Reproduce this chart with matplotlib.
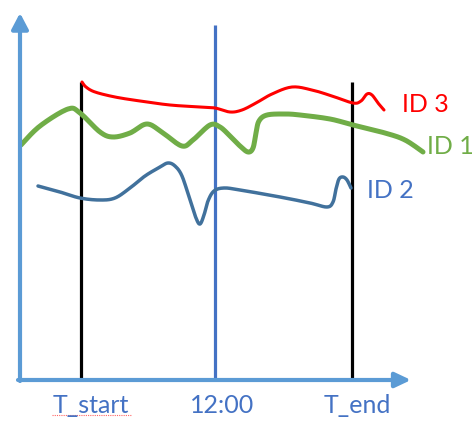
import numpy as np
import matplotlib
matplotlib.use('Agg')
import matplotlib.pyplot as plt

plt.rcParams['font.family'] = ['Lato', 'DejaVu Sans']

# hand-drawn curves (x = time in px, y = level in px, down is larger)
id3_x = [82, 86, 95, 115, 140, 170, 200, 215, 230, 242, 256, 272, 292, 312, 332, 353, 361, 367, 372, 378, 384]
id3_y = [82, 87, 92, 97, 101, 105, 107, 108, 112, 110, 103, 94, 87, 90, 96, 103, 101, 94, 95, 103, 110]

id1_x = [21, 40, 68, 80, 100, 113, 130, 147, 163, 182, 193, 210, 220, 230, 240, 248, 253, 256, 259, 267, 285, 300, 330, 353, 385, 405, 423]
id1_y = [145, 126, 109, 113, 132, 137, 133, 124, 133, 146, 140, 125, 127, 136, 146, 152, 148, 133, 121, 115, 114, 115, 119, 125, 133, 140, 152]

id2_x = [38, 60, 80, 100, 115, 130, 145, 160, 168, 175, 182, 190, 196, 200, 204, 208, 214, 224, 240, 280, 310, 327, 333, 336, 339, 343, 347, 351]
id2_y = [186, 192, 198, 200, 198, 188, 176, 167, 163, 166, 176, 200, 218, 224, 215, 201, 191, 188, 190, 197, 203, 207, 202, 189, 179, 177, 180, 188]

labels = ['ID 3', 'ID 1', 'ID 2']
label_x = [402, 427, 367]
label_y = [104, 147, 191]
label_colors = ['#FF0000', '#70AD47', '#4472C4']

tick_names = ['T_start', '12:00', 'T_end']
tick_pos = [81, 215, 352]
tick_text_x = [91, 222, 357]


def smooth(xs, ys, n=12):
    # catmull-rom through the read points
    px = np.array([xs[0]] + xs + [xs[-1]], dtype=float)
    py = np.array([ys[0]] + ys + [ys[-1]], dtype=float)
    out_x, out_y = [], []
    t = np.linspace(0, 1, n, endpoint=False)
    for i in range(1, len(px) - 2):
        for p, out in ((px, out_x), (py, out_y)):
            p0, p1, p2, p3 = p[i - 1], p[i], p[i + 1], p[i + 2]
            v = 0.5 * ((2 * p1) + (-p0 + p2) * t + (2 * p0 - 5 * p1 + 4 * p2 - p3) * t ** 2
                       + (-p0 + 3 * p1 - 3 * p2 + p3) * t ** 3)
            out.extend(v)
    out_x.append(xs[-1])
    out_y.append(ys[-1])
    return out_x, out_y


fig = plt.figure(figsize=(4.72, 4.32), dpi=100)
ax = fig.add_axes([0, 0, 1, 1])
ax.set_xlim(0, 472)
ax.set_ylim(432, 0)
ax.axis('off')

axis_col = '#5B9BD5'
# axes with arrow heads
ax.annotate('', xy=(20, 13), xytext=(20, 381),
            arrowprops=dict(arrowstyle='-|>,head_length=0.95,head_width=0.5', lw=3,
                            color=axis_col, mutation_scale=10, shrinkA=0, shrinkB=0))
ax.annotate('', xy=(411, 380), xytext=(18, 380),
            arrowprops=dict(arrowstyle='-|>,head_length=0.95,head_width=0.45', lw=3,
                            color=axis_col, mutation_scale=10, shrinkA=0, shrinkB=0))

# markers for T_start, 12:00, T_end
ax.plot([tick_pos[0], tick_pos[0]], [82, 379], color='black', lw=2.3, solid_capstyle='butt')
ax.plot([tick_pos[1], tick_pos[1]], [25, 379], color='#4472C4', lw=2.3, solid_capstyle='butt')
ax.plot([tick_pos[2], tick_pos[2]], [82, 379], color='black', lw=2.3, solid_capstyle='butt')

sx, sy = smooth(id1_x, id1_y)
ax.plot(sx, sy, color='#70AD47', lw=3.6, solid_capstyle='round')
sx, sy = smooth(id2_x, id2_y)
ax.plot(sx, sy, color='#41719C', lw=2.5, solid_capstyle='round')
sx, sy = smooth(id3_x, id3_y)
ax.plot(sx, sy, color='#FF0000', lw=2.2, solid_capstyle='round')

for i in range(3):
    ax.text(label_x[i], label_y[i], labels[i], color=label_colors[i], fontsize=18,
            ha='left', va='center')

for i in range(3):
    ax.text(tick_text_x[i], 413, tick_names[i], color='#4472C4', fontsize=18,
            ha='center', va='baseline')

# spell-check squiggle under T_start
ax.plot([52, 132], [415, 415], color='#FF6666', lw=0.8, ls=(0, (1, 1)))

fig.savefig('out.png', dpi=100)
